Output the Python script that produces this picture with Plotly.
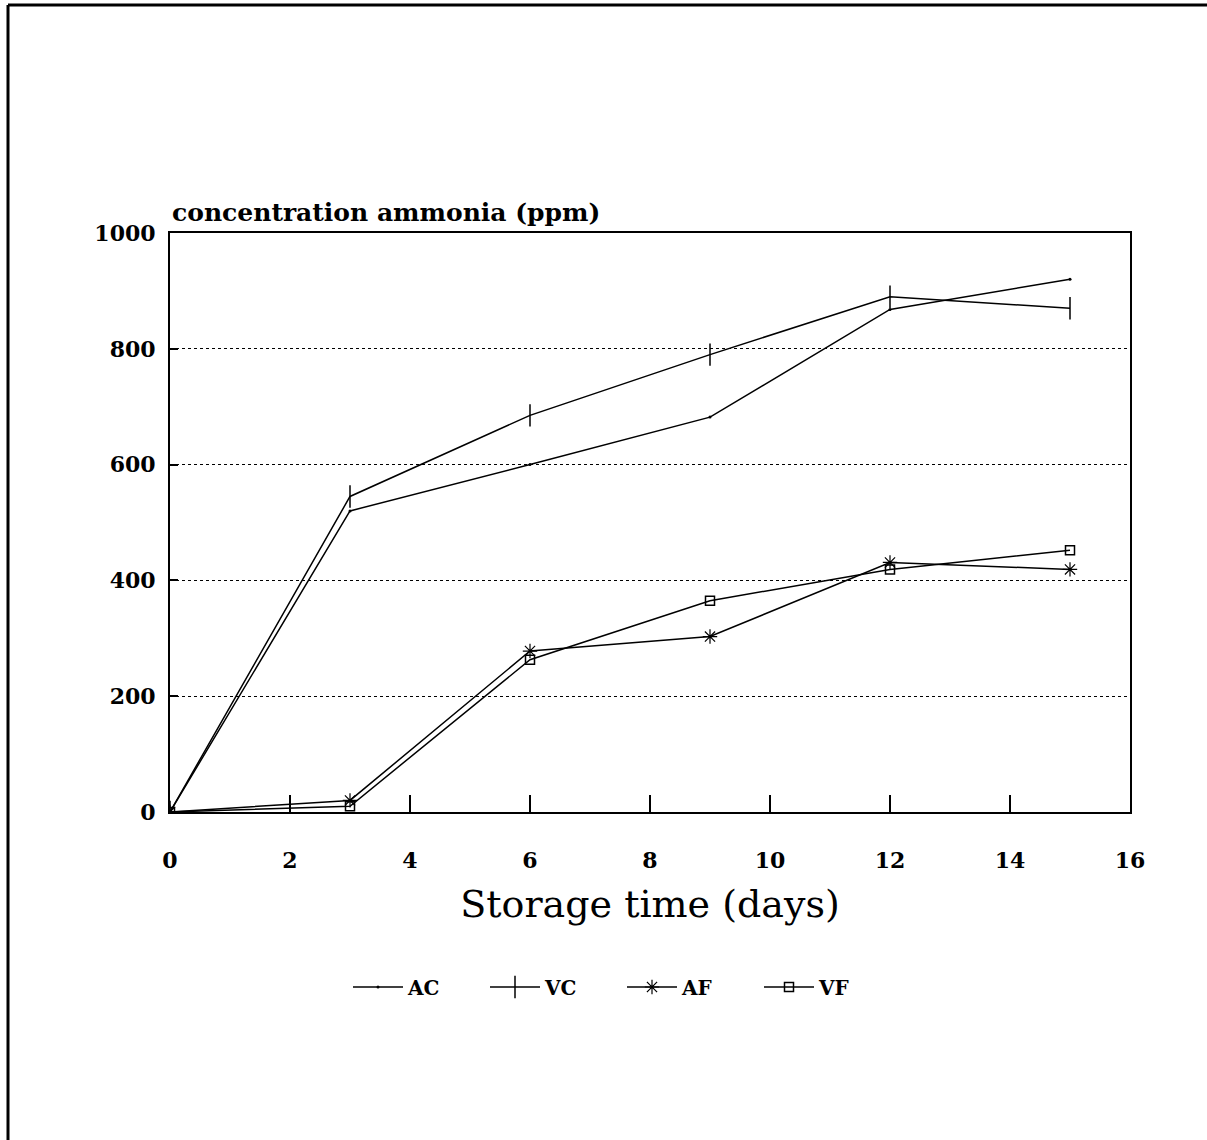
import plotly.graph_objects as go

days = [0, 3, 6, 9, 12, 15]
ac = [0, 520, 600, 682, 868, 920]
vc = [0, 545, 685, 790, 890, 870]
af = [0, 20, 278, 303, 431, 419]
vf = [0, 10, 263, 365, 419, 452]

x_ticks = [0, 2, 4, 6, 8, 10, 12, 14, 16]
y_ticks = [0, 200, 400, 600, 800, 1000]

FONT = "DejaVu Serif"

fig = go.Figure()
series = [
    ("AC", ac, dict(symbol="circle", size=3, color="black")),
    ("VC", vc, dict(symbol="line-ns", size=16, color="black", line=dict(width=1.5, color="black"))),
    ("AF", af, dict(symbol="asterisk", size=12, color="black", line=dict(width=1.2, color="black"))),
    ("VF", vf, dict(symbol="square-open", size=9, color="black", line=dict(width=1.5, color="black"))),
]
for name, vals, mk in series:
    fig.add_trace(go.Scatter(
        x=days, y=vals, name=name, mode="lines+markers",
        line=dict(color="black", width=1.5),
        marker=mk,
    ))

W, H = 1207, 1140
L, R, T, B = 170, 77, 233, 328
pw, ph = W - L - R, H - T - B

def px(xp):
    return (xp - L) / pw

def py(yp):
    return (H - B - yp) / ph

# page frame (top and left edges)
fig.add_shape(type="line", xref="paper", yref="paper",
              x0=px(8), x1=px(1207), y0=py(5), y1=py(5),
              line=dict(color="black", width=3))
fig.add_shape(type="line", xref="paper", yref="paper",
              x0=px(8), x1=px(8), y0=py(5), y1=py(1140),
              line=dict(color="black", width=3))

fig.add_annotation(text="concentration ammonia (ppm)", xref="paper", yref="paper",
                   x=px(170), y=py(213), xanchor="left", yanchor="middle",
                   showarrow=False, font=dict(family=FONT, size=25, color="black", weight="bold"))

fig.update_layout(
    width=W, height=H,
    margin=dict(l=L, r=R, t=T, b=B),
    paper_bgcolor="white", plot_bgcolor="white",
    font=dict(family=FONT, color="black"),
    showlegend=True,
    legend=dict(orientation="h", x=px(348), xanchor="left", y=py(987), yanchor="middle",
                font=dict(family=FONT, size=20, color="black", weight="bold"),
                itemwidth=50, entrywidth=72, bgcolor="rgba(0,0,0,0)"),
    xaxis=dict(range=[0, 16], tickvals=x_ticks, ticktext=[str(v) for v in x_ticks],
               showgrid=False, zeroline=False, showline=True, linecolor="black", linewidth=2,
               mirror=True, ticks="inside", ticklen=17, tickwidth=1.5, tickcolor="black",
               ticklabelstandoff=28,
               tickfont=dict(family=FONT, size=22, color="black", weight="bold"),
               title=dict(text="Storage time (days)", font=dict(family=FONT, size=38, color="black"),
                          standoff=18)),
    yaxis=dict(range=[0, 1000], tickvals=y_ticks, ticktext=[str(v) for v in y_ticks],
               showgrid=True, gridcolor="black", griddash="dot", gridwidth=1,
               zeroline=False, showline=True, linecolor="black", linewidth=2,
               mirror=True, ticks="inside", ticklen=8, tickwidth=2, tickcolor="black",
               ticklabelstandoff=8,
               tickfont=dict(family=FONT, size=22, color="black", weight="bold")),
)

fig.write_html("out.html")
